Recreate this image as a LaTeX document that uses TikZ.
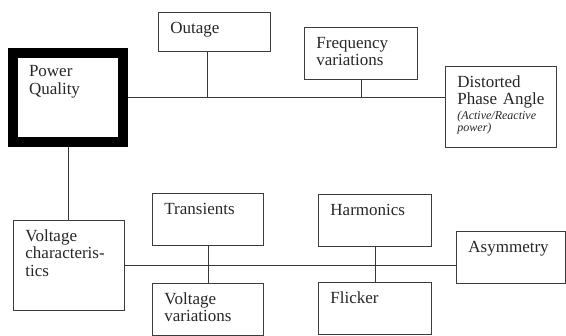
\documentclass[tikz,border=0pt]{standalone}
\usepackage{fontspec}
\setmainfont{Liberation Serif}
\usetikzlibrary{positioning}
\definecolor{boxgray}{RGB}{60,60,60}
\definecolor{linegray}{RGB}{55,55,55}

\begin{document}
\begin{tikzpicture}[x=1pt, y=-1pt,
    pqbox/.style={draw=boxgray, line width=0.9pt, anchor=north west, align=left, inner xsep=12pt, inner ysep=7pt, text height=14pt, font=\fontsize{17}{17.5}\selectfont, text=black!85},
    bus/.style={draw=linegray, line width=1.3pt},
    stub/.style={draw=linegray, line width=0.9pt}]
    \useasboundingbox (0,0) rectangle (566,336);
    \node[pqbox, draw=black, line width=10pt, inner xsep=16pt, inner ysep=10pt, text height=14pt, text width=78pt, text depth=55pt] (pq) at (8,48) {Power\\Quality};
    \node[pqbox, text width=88pt, text depth=11pt] (outage) at (158,12) {Outage};
    \node[pqbox, text width=89pt, text depth=24pt] (freq) at (304,27) {Frequency\\variations};
    \node[pqbox, text width=87pt, text depth=53pt] (phase) at (445,66) {Distorted\\Phase Angle\\[2pt]{\fontsize{12}{11}\selectfont\itshape (Active/Reactive\\[-6pt]power)}};
    \node[pqbox, text width=87pt, text depth=62pt] (vchar) at (13,220) {Voltage\\characteris-\\tics};
    \node[pqbox, text width=87pt, text depth=24pt] (trans) at (152,193) {Transients};
    \node[pqbox, text width=87pt, text depth=24pt] (vvar) at (152,283) {Voltage\\variations};
    \node[pqbox, text width=89pt, text depth=24pt] (harm) at (318,194) {Harmonics};
    \node[pqbox, text width=89pt, text depth=24pt] (flick) at (318,282) {Flicker};
    \node[pqbox, text width=85pt, text depth=24pt] (asym) at (456,231) {Asymmetry};
    \draw[bus] (pq.east) -- (pq.east -| phase.west);
    \draw[stub] ([xshift=-7pt]outage.south) -- ([xshift=-7pt]outage.south |- pq.east);
    \draw[stub] (freq.south) -- (freq.south |- pq.east);
    \draw[stub] (pq.south) -- (pq.south |- vchar.north);
    \draw[bus] (vchar.east) -- (vchar.east -| asym.west);
    \draw[stub] (trans.south) -- (vvar.north);
    \draw[stub] (harm.south) -- (flick.north);
\end{tikzpicture}
\end{document}
